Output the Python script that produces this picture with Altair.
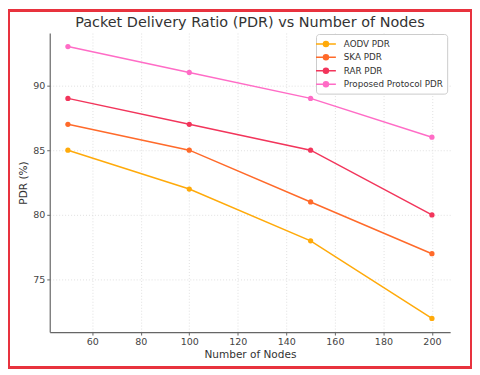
import altair as alt
import pandas as pd

nodes = [50, 100, 150, 200]
aodv = [85, 82, 78, 72]
ska = [87, 85, 81, 77]
rar = [89, 87, 85, 80]
proposed = [93, 91, 89, 86]

series_names = ["AODV PDR", "SKA PDR", "RAR PDR", "Proposed Protocol PDR"]
series_colors = ["#FFAA0A", "#FF6A2A", "#F2355B", "#FF6CC6"]
x_ticks = [60, 80, 100, 120, 140, 160, 180, 200]
y_ticks = [75, 80, 85, 90]

rows = []
for name, vals in zip(series_names, [aodv, ska, rar, proposed]):
    for n, v in zip(nodes, vals):
        rows.append({"Nodes": n, "PDR": v, "Series": name})
df = pd.DataFrame(rows)

FONT = "DejaVu Sans"

x = alt.X("Nodes:Q", scale=alt.Scale(domain=[42.5, 207.5], nice=False, zero=False),
          axis=alt.Axis(values=x_ticks, title="Number of Nodes", format="d"))
y = alt.Y("PDR:Q", scale=alt.Scale(domain=[70.95, 94.05], nice=False, zero=False),
          axis=alt.Axis(values=y_ticks, title="PDR (%)", format="d"))

color = alt.Color("Series:N", sort=series_names,
                  scale=alt.Scale(domain=series_names, range=series_colors),
                  legend=alt.Legend(
                      orient="none", legendX=268, legendY=1, title=None,
                      symbolType="M-2,0L2,0M-0.5,0A0.5,0.5,0,1,0,0.5,0A0.5,0.5,0,1,0,-0.5,0Z",
                      symbolSize=100, symbolStrokeWidth=1.5,
                      labelFont=FONT, labelFontSize=8.8, labelColor="#333",
                      labelOffset=12, rowPadding=1.5, padding=4,
                      strokeColor="#cccccc", fillColor="white", cornerRadius=3))

base = alt.Chart(df)
lines = base.mark_line(strokeWidth=1.5).encode(x=x, y=y, color=color)
points = base.mark_point(filled=True, size=28, opacity=1).encode(x=x, y=y, color=color)

border = alt.Chart(df).mark_rect(filled=False, stroke="#E8333F", strokeWidth=2).encode(
    x=alt.value(-41), x2=alt.value(424), y=alt.value(-23), y2=alt.value(337))

chart = alt.layer(lines, points, border).properties(
    width=403, height=301,
    title=alt.TitleParams("Packet Delivery Ratio (PDR) vs Number of Nodes",
                          font=FONT, fontSize=14.5, fontWeight="normal", color="#333",
                          anchor="middle", baseline="alphabetic", offset=5, dy=37),
    autosize=alt.AutoSizeParams(type="none"),
    padding={"left": 42, "top": 24, "right": 22, "bottom": 36},
).configure_view(stroke=None).configure_axis(
    labelFont=FONT, labelFontSize=9.6, labelColor="#444",
    titleFont=FONT, titleFontSize=10.6, titleColor="#333", titleFontWeight="normal",
    domainColor="#666", domainWidth=1.2, tickColor="#666", tickSize=3,
    gridColor="#d8d8d8", gridDash=[1, 2], gridWidth=0.8, labelPadding=2,
).configure_axisX(titlePadding=3).configure_axisY(titlePadding=4)

chart.save("out.html", embed_options={"renderer": "svg", "actions": False})
